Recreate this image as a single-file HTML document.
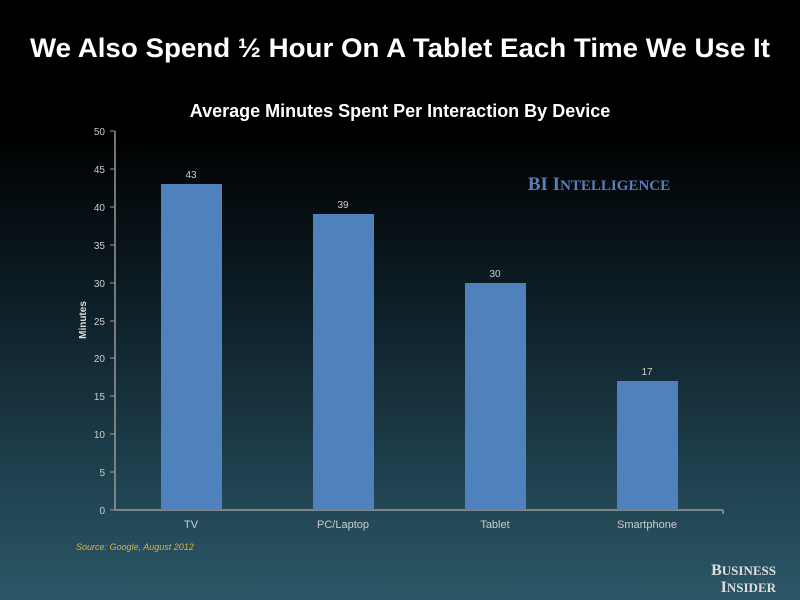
<!DOCTYPE html>
<html><head><style>
body{margin:0;width:800px;height:600px;overflow:hidden;background:linear-gradient(to bottom,#000 0%,#000 22%,#0d1e26 50%,#1f4250 80%,#2c5766 100%);font-family:"Liberation Sans",sans-serif;}
</style></head><body>
<svg width="800" height="600" xmlns="http://www.w3.org/2000/svg" style="position:absolute;left:0;top:0">
<text x="400" y="57" text-anchor="middle" fill="#fff" font-size="27" font-weight="bold" textLength="740" lengthAdjust="spacingAndGlyphs">We Also Spend ½ Hour On A Tablet Each Time We Use It</text>
<text x="400" y="117" text-anchor="middle" fill="#fff" font-size="18" font-weight="bold">Average Minutes Spent Per Interaction By Device</text>
<text x="599" y="190" text-anchor="middle" fill="#5a7fb8" font-size="19" font-weight="bold" font-family="Liberation Serif, serif">BI I<tspan font-size="15">NTELLIGENCE</tspan></text>
<g stroke="#999" stroke-width="1.5" fill="none">
<line x1="115" y1="131" x2="115" y2="510"/>
<line x1="115" y1="510" x2="723" y2="510"/>
<line x1="723" y1="510" x2="723" y2="514"/>
</g>
<g stroke="#999" stroke-width="1">
<line x1="110" y1="131" x2="115" y2="131"/><line x1="110" y1="169" x2="115" y2="169"/><line x1="110" y1="207" x2="115" y2="207"/><line x1="110" y1="245" x2="115" y2="245"/><line x1="110" y1="283" x2="115" y2="283"/><line x1="110" y1="321" x2="115" y2="321"/><line x1="110" y1="358" x2="115" y2="358"/><line x1="110" y1="396" x2="115" y2="396"/><line x1="110" y1="434" x2="115" y2="434"/><line x1="110" y1="472" x2="115" y2="472"/><line x1="110" y1="510" x2="115" y2="510"/>
</g>
<g fill="#ccc" font-size="10" text-anchor="end">
<text x="105" y="135">50</text><text x="105" y="173">45</text><text x="105" y="211">40</text><text x="105" y="249">35</text><text x="105" y="287">30</text><text x="105" y="325">25</text><text x="105" y="362">20</text><text x="105" y="400">15</text><text x="105" y="438">10</text><text x="105" y="476">5</text><text x="105" y="514">0</text>
</g>
<text transform="translate(86,320) rotate(-90)" text-anchor="middle" fill="#ddd" font-size="10" font-weight="bold">Minutes</text>
<g fill="#4f81bd">
<rect x="161" y="184" width="61" height="326"/>
<rect x="313" y="214" width="61" height="296"/>
<rect x="465" y="283" width="61" height="227"/>
<rect x="617" y="381" width="61" height="129"/>
</g>
<g fill="#ccc" font-size="10" text-anchor="middle">
<text x="191" y="178">43</text><text x="343" y="208">39</text><text x="495" y="277">30</text><text x="647" y="375">17</text>
<text x="191" y="528" font-size="11">TV</text><text x="343" y="528" font-size="11">PC/Laptop</text><text x="495" y="528" font-size="11">Tablet</text><text x="647" y="528" font-size="11">Smartphone</text>
</g>
<text x="76" y="550" fill="#d8b04a" font-size="9" font-style="italic">Source: Google, August 2012</text>
<text x="776" y="575" text-anchor="end" fill="#ddd" font-size="16" font-weight="bold" font-family="Liberation Serif, serif">B<tspan font-size="13">USINESS</tspan></text>
<text x="776" y="592" text-anchor="end" fill="#ddd" font-size="16" font-weight="bold" font-family="Liberation Serif, serif">I<tspan font-size="13">NSIDER</tspan></text>
</svg>
</body></html>
